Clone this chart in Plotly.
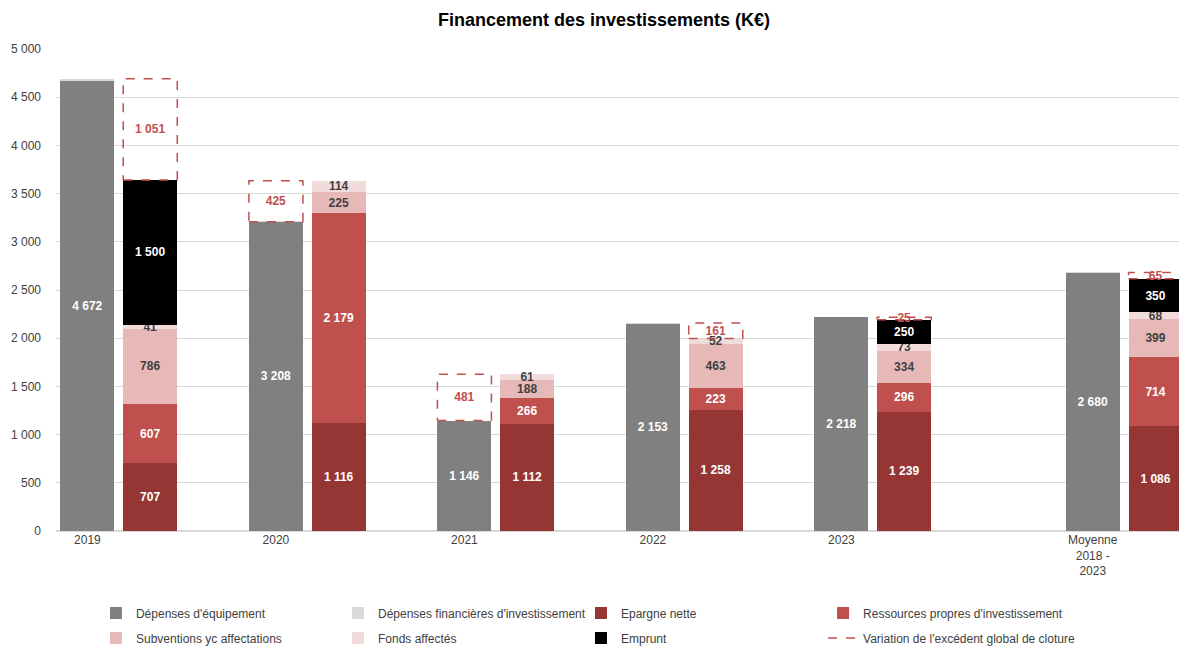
import numpy as np
import plotly.graph_objects as go

# categories / positions (one slot per bar, blank slots between years)
years = ["2019", "2020", "2021", "2022", "2023", "Moyenne<br>2018 -<br>2023"]
pos_left = [0, 3, 6, 9, 12, 16]
pos_right = [1, 4, 7, 10, 13, 17]

# series (K€)
dep_equip = [4672, 3208, 1146, 2153, 2218, 2680]
dep_fin = [20, 1, 0, 4, 0, 2]
dep_fin_lbl = [False, False, True, False, False, False]
epargne = [707, 1116, 1112, 1258, 1239, 1086]
ressources = [607, 2179, 266, 223, 296, 714]
subventions = [786, 225, 188, 463, 334, 399]
fonds = [41, 114, 61, 52, 73, 68]
emprunt = [1500, 0, 0, 0, 250, 350]
variation = [1051, 425, 481, 161, 25, 65]
variation_side = ["R", "L", "L", "R", "R", "R"]

FONT = "Liberation Sans, Arial, sans-serif"
W = 0.86


def fmt(v):
    return f"{v:,}".replace(",", " ")


fig = go.Figure()


def add(name, x, y, color, tcolor, legend, text=None, keep_zero=False):
    if text is None:
        text = [fmt(v) if v else "" for v in y]
    yy = y if keep_zero else [v if v else None for v in y]
    fig.add_trace(go.Bar(
        name=name, x=x, y=yy,
        marker=dict(color=color, line=dict(width=0)),
        width=W, text=text, textposition="inside", insidetextanchor="middle",
        constraintext="none", textangle=0, cliponaxis=False,
        textfont=dict(family=FONT, size=12, color=tcolor, weight="bold"),
        legend=legend, hoverinfo="name+y",
    ))


add("Dépenses d'équipement", pos_left, dep_equip, "#808080", "white", "legend")
add("Dépenses financières d'investissement", pos_left, dep_fin, "#D9D9D9", "#404040", "legend3",
    text=[fmt(v) if s else "" for v, s in zip(dep_fin, dep_fin_lbl)], keep_zero=True)
add("Epargne nette", pos_right, epargne, "#963634", "white", "legend5")
add("Ressources propres d'investissement", pos_right, ressources, "#C0504D", "white", "legend7")
add("Subventions yc affectations", pos_right, subventions, "#E6B9B8", "#404040", "legend2")
add("Fonds affectés", pos_right, fonds, "#F2DCDB", "#404040", "legend4")
add("Emprunt", pos_right, emprunt, "#000000", "white", "legend6")

# variation: stacked on the left or right bar
left_tot = np.array(dep_equip) + np.array(dep_fin)
right_tot = (np.array(epargne) + np.array(ressources) + np.array(subventions)
             + np.array(fonds) + np.array(emprunt))
var_x = [pl if s == "L" else pr for pl, pr, s in zip(pos_left, pos_right, variation_side)]
var_base = [lt if s == "L" else rt for lt, rt, s in zip(left_tot, right_tot, variation_side)]

fig.add_trace(go.Bar(
    name="Variation de l'excédent global de cloture", x=var_x, y=variation,
    marker=dict(color="rgba(0,0,0,0)", line=dict(width=0)), width=W,
    text=[fmt(v) for v in variation], textposition="inside", insidetextanchor="middle",
    constraintext="none", textangle=0, cliponaxis=False,
    textfont=dict(family=FONT, size=12, color="#C0504D", weight="bold"),
    showlegend=False, hoverinfo="name+y",
))

# dashed outlines
ox, oy = [], []
for x, b, v in zip(var_x, var_base, variation):
    ox += [x - W / 2, x + W / 2, x + W / 2, x - W / 2, x - W / 2, None]
    oy += [b, b, b + v, b + v, b, None]
fig.add_trace(go.Scatter(
    x=ox, y=oy, mode="lines", line=dict(color="#C0504D", width=1.5, dash="dash"),
    name="Variation de l'excédent global de cloture", legend="legend8", hoverinfo="skip",
))

# legends: 4 columns x 2 rows, placed in the container
cols = [0.0746, 0.2799, 0.4860, 0.6913]
rows = [0.0547, 0.0156]
legends = {}
k = 1
for c in cols:
    for r in rows:
        key = "legend" if k == 1 else f"legend{k}"
        legends[key] = dict(x=c, y=r, xref="container", yref="container",
                            xanchor="left", yanchor="middle",
                            orientation="h", bgcolor="rgba(0,0,0,0)",
                            font=dict(family=FONT, size=12, color="#404040"),
                            itemwidth=30)
        k += 1

fig.update_layout(
    width=1179, height=640,
    barmode="stack",
    separators=", ",
    plot_bgcolor="white", paper_bgcolor="white",
    margin=dict(l=48, r=0, t=41, b=117, autoexpand=False),
    title=dict(text="<b>Financement des investissements (K€)</b>", x=0.5055, xanchor="center",
               y=0.981, yanchor="middle",
               font=dict(family=FONT, size=18, color="black")),
    font=dict(family=FONT, size=12, color="#404040"),
    xaxis=dict(range=[-0.5, 17.5], tickvals=pos_left, ticktext=years,
               showgrid=False, zeroline=False, showline=False, ticks="",
               tickfont=dict(family=FONT, size=12, color="#404040")),
    yaxis=dict(range=[0, 5000], dtick=500, tickformat=",d", showgrid=True,
               gridcolor="#D9D9D9", gridwidth=1, zeroline=True, zerolinecolor="#D9D9D9",
               ticks="", ticklabelstandoff=14,
               tickfont=dict(family=FONT, size=12, color="#404040")),
    **legends,
)

fig.write_html("out.html")
